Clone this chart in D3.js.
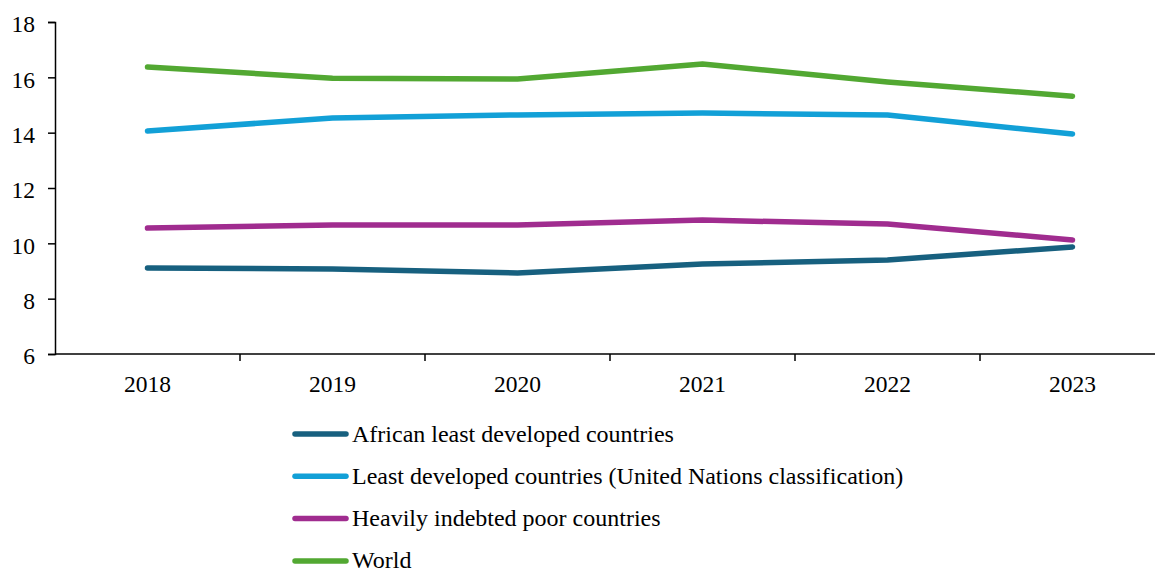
<!DOCTYPE html>
<html>
<head>
<meta charset="utf-8">
<script src="https://cdn.jsdelivr.net/npm/d3@7"></script>
<style>
  body { margin: 0; background: #fff; }
</style>
</head>
<body>
<div id="chart"></div>
<script>
const years = ['2018', '2019', '2020', '2021', '2022', '2023']
const yTicks = [6, 8, 10, 12, 14, 16, 18]

const seriesNames = [
  'African least developed countries',
  'Least developed countries (United Nations classification)',
  'Heavily indebted poor countries',
  'World'
]
const africanLdc = [9.11, 9.07, 8.93, 9.25, 9.40, 9.87]
const ldc = [14.06, 14.53, 14.64, 14.71, 14.64, 13.95]
const hipc = [10.55, 10.66, 10.66, 10.84, 10.70, 10.12]
const world = [16.37, 15.97, 15.94, 16.48, 15.83, 15.32]
const seriesColors = ['#17607f', '#12a0d7', '#a02c8f', '#52a832']

const SIZE = Object.freeze({ WIDTH: 1155, HEIGHT: 570 })
const PLOT = Object.freeze({ LEFT: 55, RIGHT: 1165, TOP: 22, BOTTOM: 354 })
const FONT = '"Liberation Serif", "Times New Roman", Tinos, serif'

const series = [africanLdc, ldc, hipc, world].map((values, i) => ({
  name: seriesNames[i],
  color: seriesColors[i],
  values
}))

const svg = d3.select('#chart')
  .append('svg')
  .attr('width', SIZE.WIDTH)
  .attr('height', SIZE.HEIGHT)

const xScale = d3.scaleBand()
  .domain(years)
  .range([PLOT.LEFT, PLOT.RIGHT])

const yScale = d3.scaleLinear()
  .domain([6, 18])
  .range([PLOT.BOTTOM, PLOT.TOP])

// x axis: ticks sit between the categories, line runs to the right edge
const xAxisG = svg.append('g')
  .attr('transform', `translate(0, ${PLOT.BOTTOM})`)
xAxisG.append('line')
  .attr('x1', PLOT.LEFT).attr('x2', SIZE.WIDTH)
  .attr('stroke', '#000').attr('stroke-width', 1.5)
xAxisG.selectAll('line.tick')
  .data(years.slice(1))
  .enter()
  .append('line')
  .attr('class', 'tick')
  .attr('x1', d => xScale(d)).attr('x2', d => xScale(d))
  .attr('y1', 0).attr('y2', 7)
  .attr('stroke', '#000').attr('stroke-width', 1.5)
xAxisG.selectAll('text')
  .data(years)
  .enter()
  .append('text')
  .attr('x', d => xScale(d) + xScale.bandwidth() / 2)
  .attr('y', 38)
  .attr('text-anchor', 'middle')
  .style('font-family', FONT)
  .style('font-size', '23.5px')
  .style('fill', '#000')
  .text(d => d)

const yAxis = d3.axisLeft(yScale)
  .tickValues(yTicks)
  .tickSize(7)
  .tickPadding(13)
const yAxisG = svg.append('g')
  .attr('transform', `translate(${PLOT.LEFT}, 0)`)
  .call(yAxis)
yAxisG.select('.domain').attr('stroke-width', 1.5)
yAxisG.selectAll('.tick line').attr('stroke-width', 1.5)
yAxisG.selectAll('.tick text')
  .style('font-family', FONT)
  .style('font-size', '23.5px')
  .style('fill', '#000')
  .attr('dy', '0.42em')

const line = d3.line()
  .x((d, i) => xScale(years[i]) + xScale.bandwidth() / 2)
  .y(d => yScale(d))

svg.append('g')
  .selectAll('path')
  .data(series)
  .enter()
  .append('path')
  .attr('d', d => line(d.values))
  .attr('fill', 'none')
  .attr('stroke', d => d.color)
  .attr('stroke-width', 5.5)
  .attr('stroke-linecap', 'round')
  .attr('stroke-linejoin', 'round')

const legend = svg.append('g')
  .attr('transform', 'translate(295, 434)')
legend.selectAll('line')
  .data(series)
  .enter()
  .append('line')
  .attr('x1', 0).attr('x2', 51)
  .attr('y1', (d, i) => i * 42.3).attr('y2', (d, i) => i * 42.3)
  .attr('stroke', d => d.color)
  .attr('stroke-width', 5.5)
  .attr('stroke-linecap', 'round')
legend.selectAll('text')
  .data(series)
  .enter()
  .append('text')
  .attr('x', 57)
  .attr('y', (d, i) => i * 42.3 + 7.5)
  .style('font-family', FONT)
  .style('font-size', '24px')
  .style('fill', '#000')
  .text(d => d.name)
</script>
</body>
</html>
